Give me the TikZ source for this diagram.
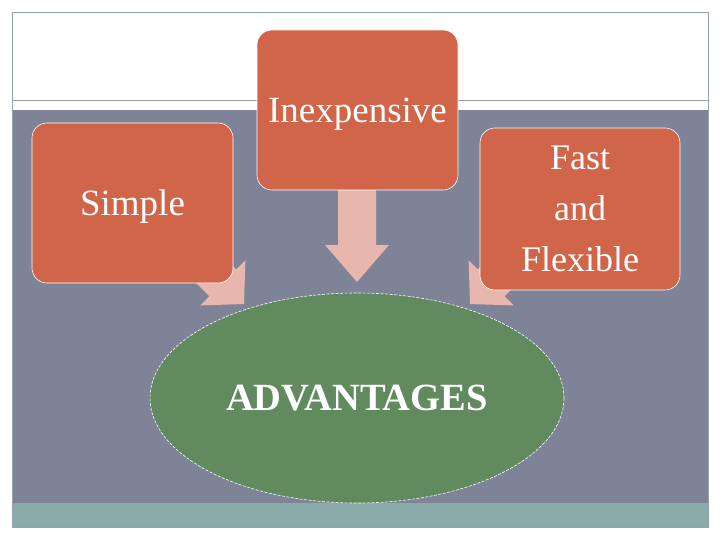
\documentclass[tikz,border=0pt]{standalone}
\usepackage{fontspec}
\setmainfont{Liberation Serif}
\usetikzlibrary{shapes.geometric}

\definecolor{slate}{RGB}{127,131,152}
\definecolor{brick}{RGB}{208,101,74}
\definecolor{blush}{RGB}{231,182,172}
\definecolor{moss}{RGB}{97,138,94}
\definecolor{teal}{RGB}{139,170,170}
\definecolor{rule}{RGB}{150,160,168}

\tikzset{
  card/.style={draw=white, line width=0.6pt, fill=brick, rounded corners=15pt,
    minimum width=201pt, minimum height=160pt, text=white, align=center,
    font=\fontsize{36}{51}\selectfont},
  cardtext/.style={text=white, font=\fontsize{37}{44}\selectfont, yshift=-4pt},
  goal/.style={ellipse, draw=white, dashed, dash pattern=on 3pt off 1.5pt,
    line width=0.6pt, fill=moss, minimum width=414pt, minimum height=210pt,
    text=white, font=\fontsize{38.5}{44}\selectfont\bfseries},
  pics/blockarr/.style={code={
    \fill[blush] (0,0) -- (-#1,32) -- (-#1,19) -- (-110,19) -- (-110,-19)
      -- (-#1,-19) -- (-#1,-32) -- cycle;}}
}

\begin{document}
\begin{tikzpicture}[x=1pt, y=-1pt]
  \useasboundingbox (0,0) rectangle (720,540);
  % slide frame
  \fill[white] (0,0) rectangle (720,540);
  \fill[slate] (12,110) rectangle (708,503);
  \fill[teal] (12,503) rectangle (708,527);
  \draw[rule, line width=0.8pt] (12,12) rectangle (708,527);
  \draw[rule, line width=0.8pt] (12,100) -- (708,100);
  % arrow tips
  \coordinate (tipM) at (357,282);
  \coordinate (tipL) at (244,304);
  \coordinate (tipR) at (470,304);
  \pic[rotate=-90] at (tipM) {blockarr=37};
  \pic[rotate=-45] at (tipL) {blockarr=30};
  \pic[rotate=-135] at (tipR) {blockarr=30};
  % cards
  \node[card, label={[cardtext]center:Inexpensive}] (cheap) at (357.5,110) {};
  \node[card, label={[cardtext]center:Simple}] (simple) at (132.5,203) {};
  \node[card, minimum width=200pt, minimum height=162pt] (fast) at (580,209)
    {Fast\\and\\Flexible};
  % centre
  \node[goal] (adv) at (357,398) {ADVANTAGES};
\end{tikzpicture}
\end{document}
